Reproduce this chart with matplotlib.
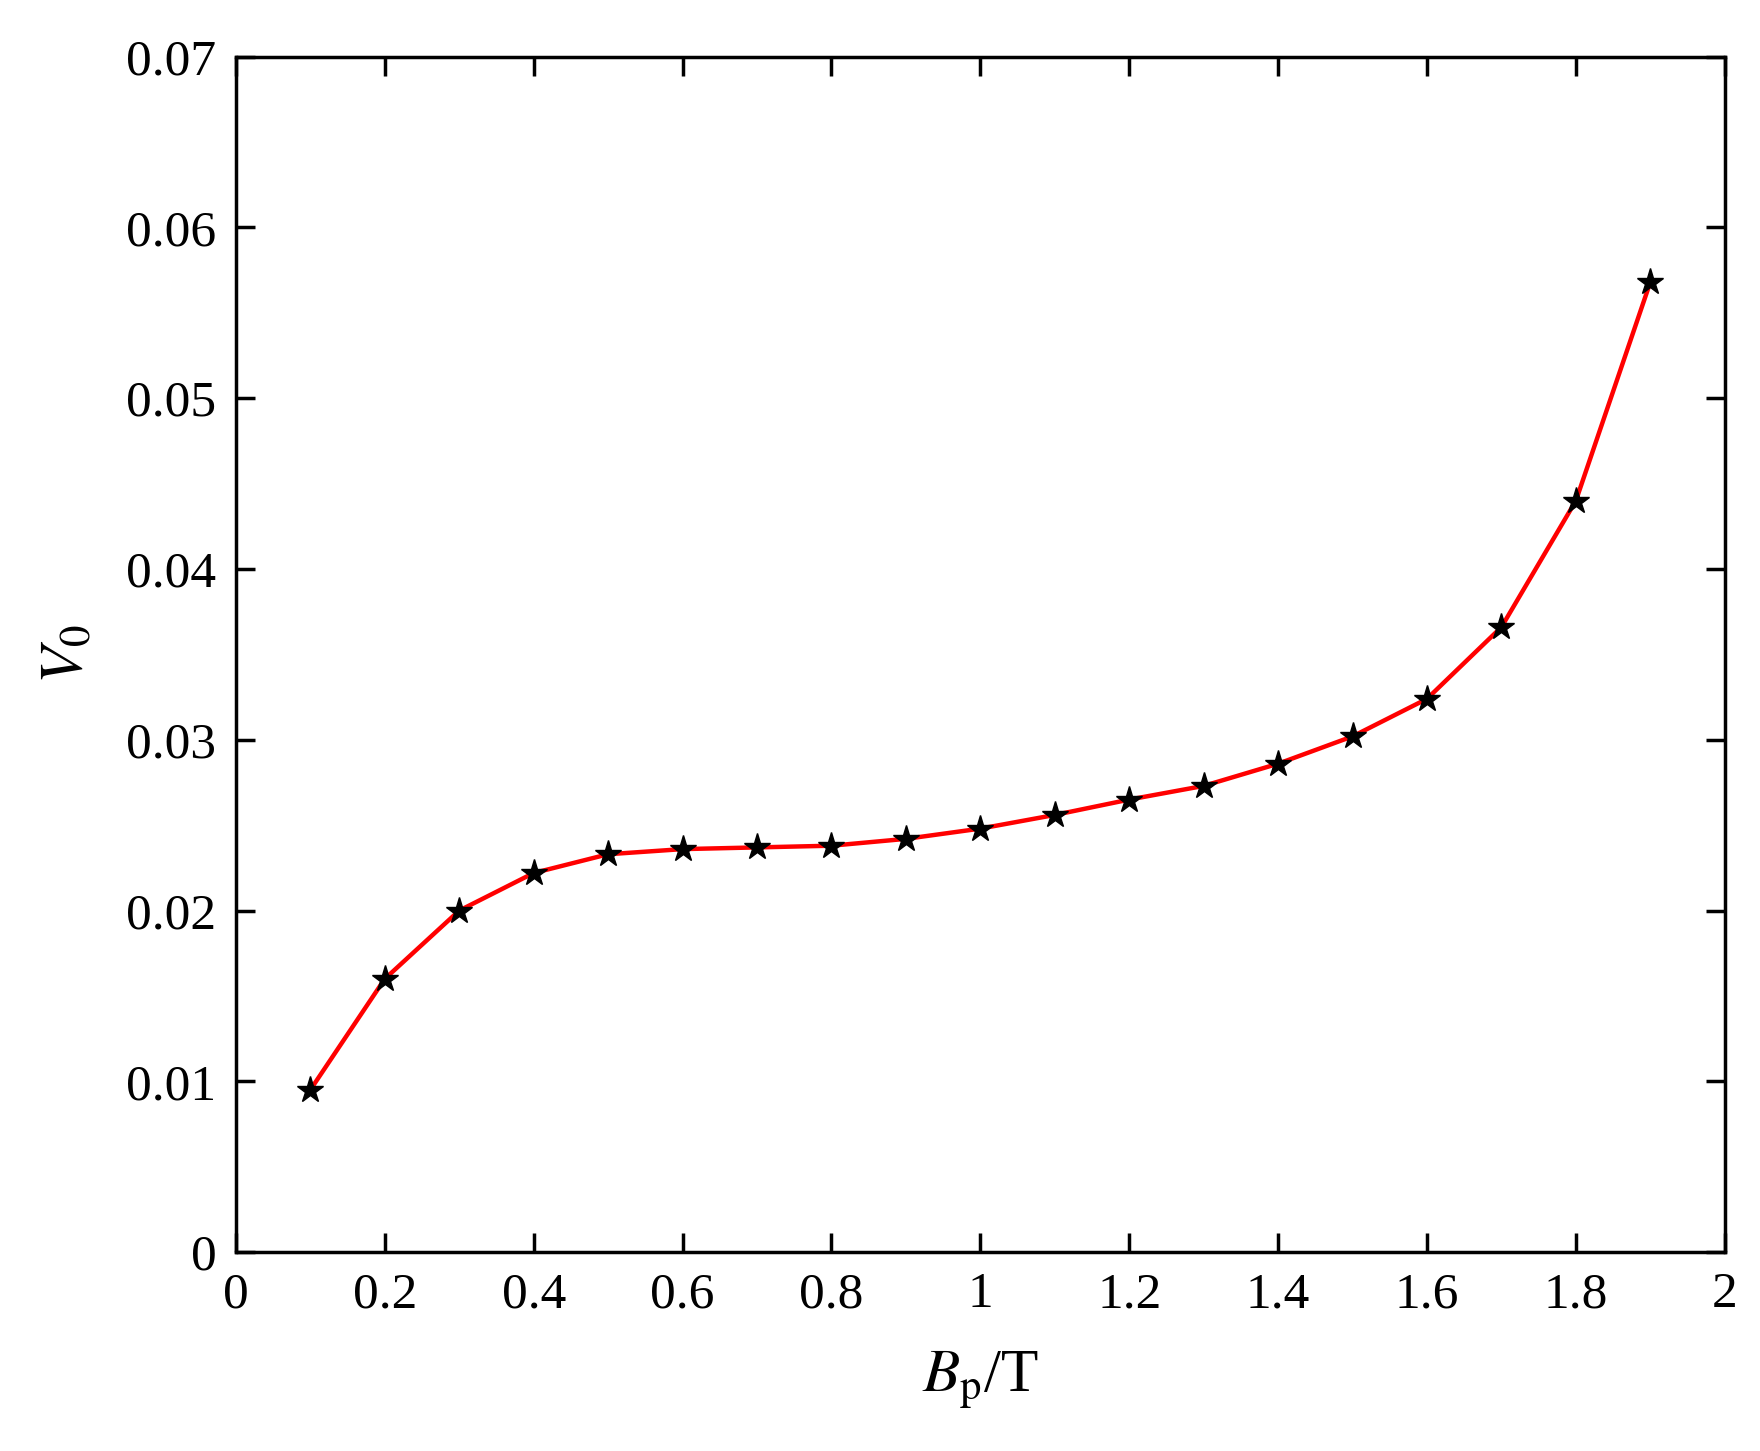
import matplotlib
matplotlib.use("Agg")
import matplotlib.pyplot as plt

# Data
bp = [0.1, 0.2, 0.3, 0.4, 0.5, 0.6, 0.7, 0.8, 0.9, 1.0,
      1.1, 1.2, 1.3, 1.4, 1.5, 1.6, 1.7, 1.8, 1.9]
v0 = [0.0095, 0.0160, 0.0200, 0.0222, 0.0233, 0.0236, 0.0237, 0.0238, 0.0242, 0.0248,
      0.0256, 0.0265, 0.0273, 0.0286, 0.0302, 0.0324, 0.0366, 0.0440, 0.0568]
x_ticks = [0, 0.2, 0.4, 0.6, 0.8, 1, 1.2, 1.4, 1.6, 1.8, 2]
x_labels = ["0", "0.2", "0.4", "0.6", "0.8", "1", "1.2", "1.4", "1.6", "1.8", "2"]
y_ticks = [0, 0.01, 0.02, 0.03, 0.04, 0.05, 0.06, 0.07]
y_labels = ["0", "0.01", "0.02", "0.03", "0.04", "0.05", "0.06", "0.07"]

plt.rcParams["font.family"] = ["Liberation Serif", "DejaVu Serif"]
plt.rcParams["mathtext.fontset"] = "stix"

fig = plt.figure(figsize=(17.6, 14.51), dpi=100)
ax = fig.add_axes([0.134, 0.137, 0.846, 0.824])

ax.plot(bp, v0, color="red", linewidth=3.2, zorder=2)
ax.plot(bp, v0, linestyle="none", marker="*", color="black", markersize=20, zorder=3)

ax.set_xlim(0, 2)
ax.set_ylim(0, 0.07)
ax.set_xticks(x_ticks)
ax.set_xticklabels(x_labels)
ax.set_yticks(y_ticks)
ax.set_yticklabels(y_labels)
ax.tick_params(direction="in", top=True, right=True, length=14, width=2.5,
               labelsize=37, pad=14)
for s in ax.spines.values():
    s.set_linewidth(2.5)

ax.set_xlabel(r"$B_{\rm p}$/T", fontsize=44, labelpad=22)
ax.set_ylabel(r"$V_0$", fontsize=44, labelpad=22)

fig.savefig("out.png", dpi=100)
